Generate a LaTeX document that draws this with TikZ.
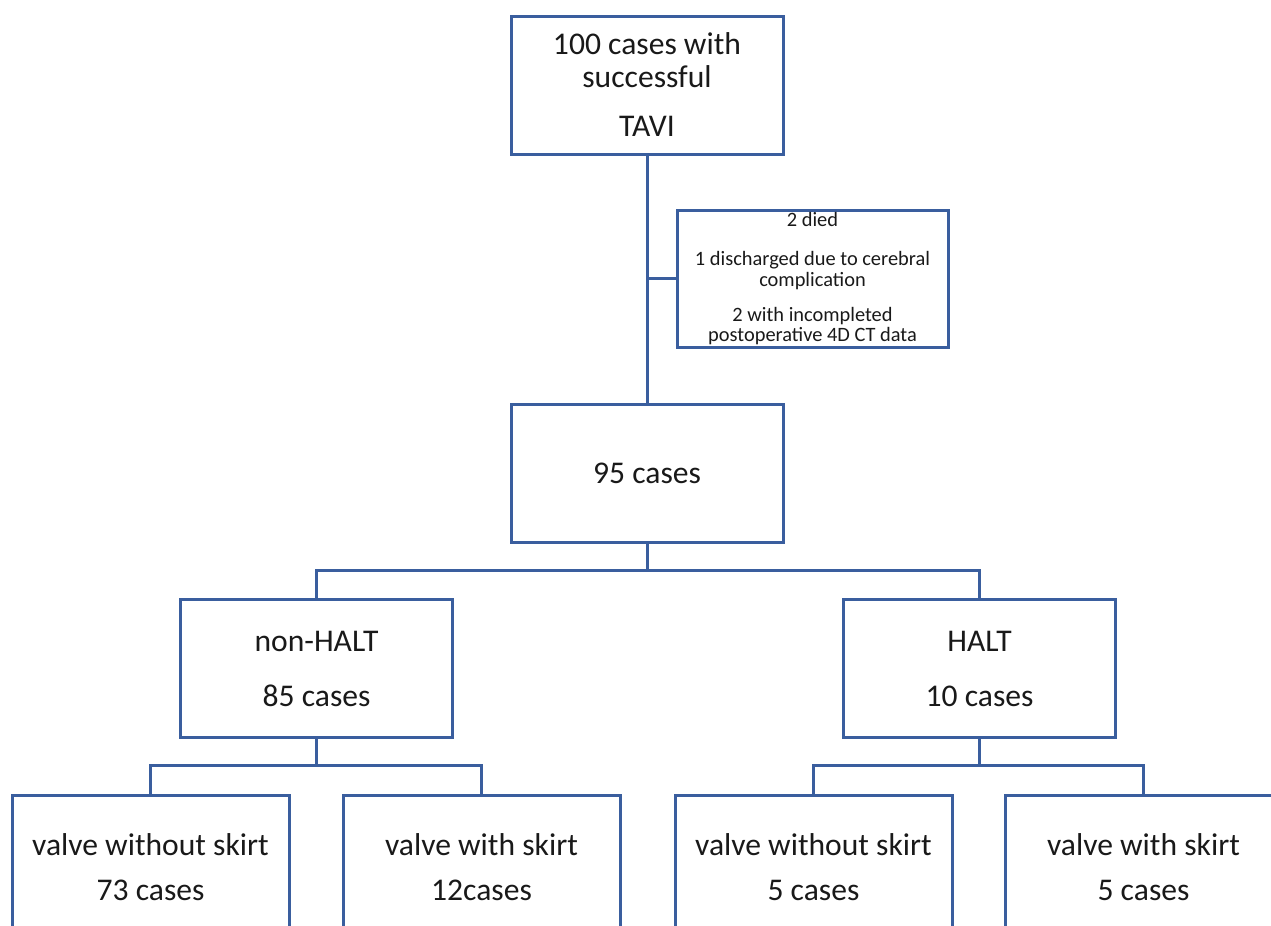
\documentclass[tikz,border=0pt]{standalone}
\usepackage{fontspec}
\setmainfont{Carlito}
\definecolor{boxblue}{HTML}{3A5E9E}
\begin{document}
\begin{tikzpicture}[x=0.5pt,y=-0.5pt,line join=miter,
    box/.style={draw=boxblue,line width=1.5pt,inner sep=0pt,minimum width=136pt,minimum height=69pt,align=center,text=black!90,font=\fontsize{15.8}{16.5}\selectfont},
    sidebox/.style={box,minimum width=135.5pt,minimum height=68.5pt,font=\fontsize{10.2}{10.3}\selectfont},
    leafbox/.style={box,minimum width=138.5pt,minimum height=72pt},
    link/.style={draw=boxblue,line width=1.5pt}]
  \useasboundingbox (0,0) rectangle (1271,926);
  \clip (0,0) rectangle (1271,926);
  % boxes
  \node[box] (top) at (647,85) {100 cases with\\successful\\[8pt]TAVI};
  \node[sidebox] (side) at (812.5,278.5) {2 died\\[9.5pt]1 discharged due to cerebral\\complication\\[7pt]2 with incompleted\\postoperative 4D CT data};
  \node[box] (n95) at (647,473.5) {95 cases};
  \node[box] (nonhalt) at (316.5,668.5) {non-HALT\\[11pt]85 cases};
  \node[box] (halt) at (979.5,668.5) {HALT\\[11pt]10 cases};
  \node[leafbox] (nhwo) at (150.5,867) {valve without skirt\\[6pt]73 cases};
  \node[leafbox] (nhw) at (481.5,867) {valve with skirt\\[6pt]12cases};
  \node[leafbox] (hwo) at (813.5,867) {valve without skirt\\[6pt]5 cases};
  \node[leafbox] (hw) at (1143.5,867) {valve with skirt\\[6pt]5 cases};
  % connectors
  \draw[link] (top) -- (n95);
  \draw[link] (side.west) -- (side.west -| top.south);
  \coordinate (j95) at (647,570);
  \draw[link] (n95) -- (j95) -| (nonhalt.north);
  \draw[link] (j95) -| (halt.north);
  \coordinate (jnh) at (316.5,765);
  \draw[link] (nonhalt) -- (jnh) -| (nhwo.north);
  \draw[link] (jnh) -| (nhw.north);
  \coordinate (jh) at (979.5,765);
  \draw[link] (halt) -- (jh) -| (hwo.north);
  \draw[link] (jh) -| (hw.north);
\end{tikzpicture}
\end{document}
